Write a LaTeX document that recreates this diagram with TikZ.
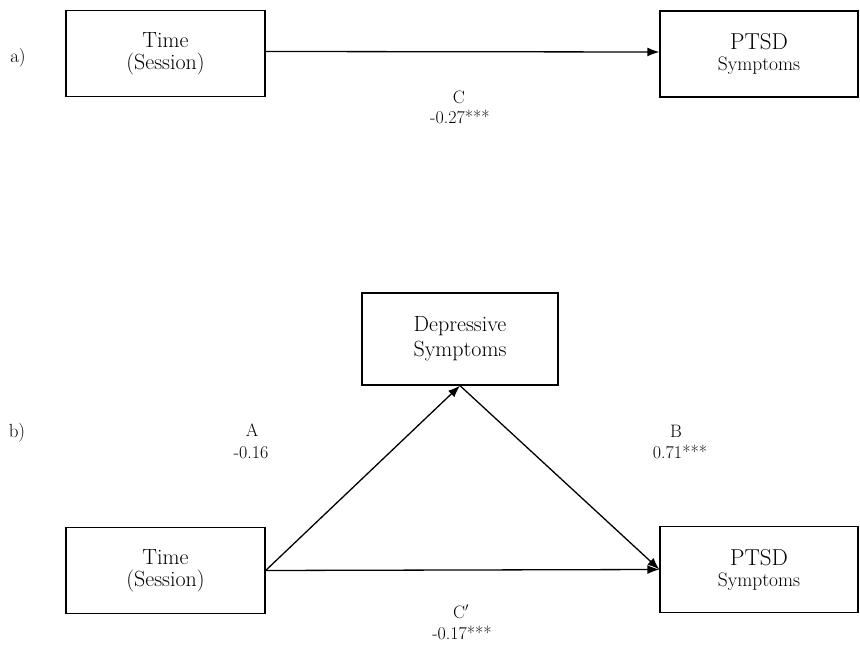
\documentclass[tikz,border=0pt]{standalone}
\usetikzlibrary{arrows.meta}
\begin{document}
\begin{tikzpicture}[x=1pt,y=-1pt,
  box/.style={draw,line width=1.3pt,inner sep=0pt,align=center},
  tbox/.style={box,minimum width=199pt,minimum height=86pt,font=\fontsize{22}{22}\selectfont},
  pbox/.style={box,minimum width=198pt,minimum height=86pt,font=\fontsize{19.5}{21}\selectfont},
  dbox/.style={box,minimum width=196pt,minimum height=92pt,font=\fontsize{22}{25}\selectfont},
  lab/.style={inner sep=0pt,anchor=base,font=\fontsize{18}{20}\selectfont},
  plab/.style={inner sep=0pt,anchor=base,font=\fontsize{19}{20}\selectfont},
  arr/.style={line width=1.3pt,-{Latex[length=12pt,width=9pt]}}]
\useasboundingbox (0,0) rectangle (860,652);
% (a)
\node[plab] (la) at (18,63) {a)};
\node[tbox] (t1) at (165.5,53.5) {Time\\(Session)};
\node[pbox] (p1) at (759,54) {{\fontsize{23}{21}\selectfont PTSD}\\Symptoms};
\draw[arr] ([yshift=2pt]t1.east) -- ([yshift=2pt]p1.west);
\node[lab] (c1) at (459,104) {C};
\node[lab] (c1v) at (460,124) {-0.27***};
% (b)
\node[plab] (lb) at (17,437) {b)};
\node[dbox] (d2) at (460,339) {Depressive\\Symptoms};
\node[tbox] (t2) at (165.5,570.5) {Time\\(Session)};
\node[pbox] (p2) at (759,569.5) {{\fontsize{23}{21}\selectfont PTSD}\\Symptoms};
\draw[arr] (t2.east) -- (d2.south);
\draw[arr] (d2.south) -- (p2.west);
\draw[arr] (t2.east) -- (p2.west);
\node[lab] (a2) at (252,436) {A};
\node[lab] (a2v) at (251,458) {-0.16};
\node[lab] (b2) at (676,438) {B};
\node[lab] (b2v) at (680,458) {0.71***};
\node[lab] (c2v) at (462,639) {-0.17***};
\node[lab] (c2) at (461,618) {C$'$};
\end{tikzpicture}
\end{document}
